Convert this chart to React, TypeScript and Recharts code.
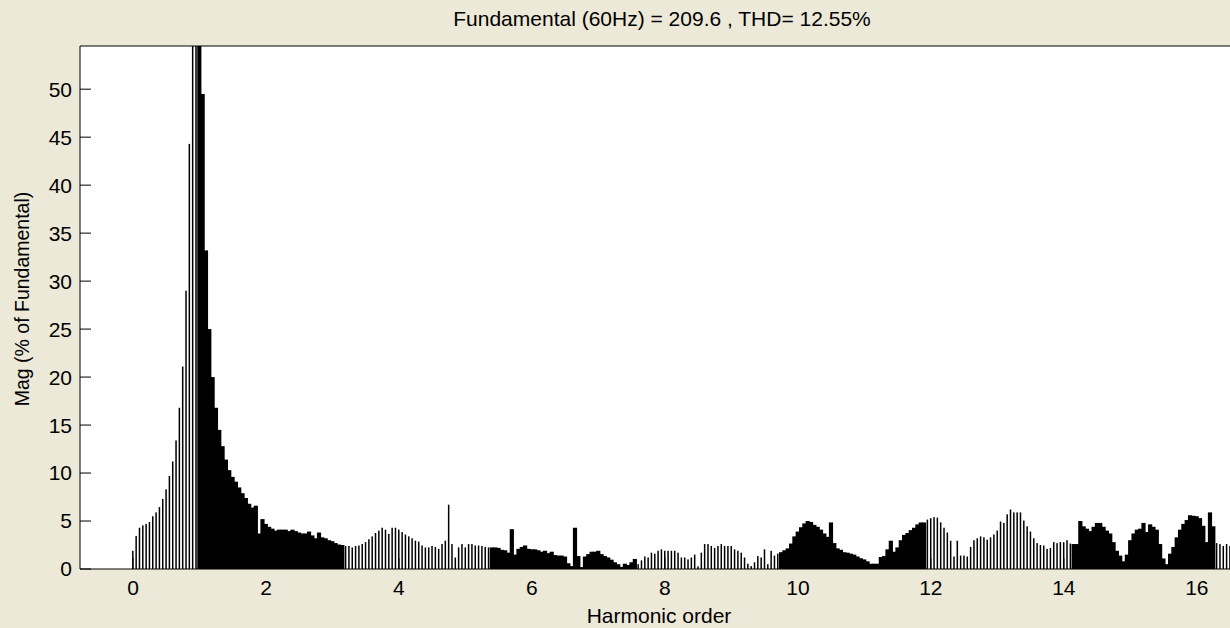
import { ComposedChart, Bar, Line, XAxis, YAxis, CartesianGrid } from 'recharts';

// FFT bin spacing: 3 Hz bins on a 60 Hz fundamental -> 0.05 harmonic per bin
const BIN = 0.05;

// magnitude (% of fundamental), one row per harmonic (20 bins each)
const MAG_H0 = [1.9, 3.45, 4.3, 4.55, 4.7, 4.9, 5.5, 5.9, 6.45, 7.3, 8.3, 9.7, 11.2, 13.4, 16.8, 21.1, 29.0, 44.3, 66, 88];
const MAG_H1 = [100, 49.5, 33.2, 25.0, 20.0, 16.8, 14.5, 12.8, 11.4, 10.3, 9.6, 9.1, 8.5, 7.9, 7.4, 6.8, 6.4, 6.6, 3.7, 5.2];
const MAG_H2 = [4.7, 4.4, 4.2, 4.0, 4.1, 4.1, 4.1, 3.95, 4.1, 3.95, 3.8, 3.7, 3.7, 3.9, 3.5, 3.2, 3.8, 3.3, 3.2, 3.0];
const MAG_H3 = [2.9, 2.7, 2.55, 2.5, 2.4, 2.4, 2.25, 2.4, 2.45, 2.6, 2.8, 3.1, 3.4, 3.75, 4.0, 4.3, 4.1, 3.65, 4.3, 4.3];
const MAG_H4 = [4.1, 3.85, 3.6, 3.4, 3.2, 2.95, 2.85, 2.45, 2.25, 2.25, 2.4, 2.3, 2.1, 2.6, 2.95, 6.7, 2.6, 1.2, 2.25, 2.6];
const MAG_H5 = [2.25, 2.6, 2.6, 2.45, 2.45, 2.4, 2.3, 2.25, 2.25, 2.25, 2.2, 2.0, 1.95, 1.7, 4.15, 1.5, 2.1, 2.3, 2.45, 2.1];
const MAG_H6 = [2.05, 2.05, 1.95, 1.8, 1.9, 1.65, 1.8, 1.45, 1.4, 1.4, 1.3, 0.6, 0.3, 4.3, 1.35, 0.2, 1.3, 1.55, 1.8, 1.8];
const MAG_H7 = [1.9, 1.55, 1.35, 1.2, 0.97, 0.7, 0.5, 0.22, 0.55, 0.42, 0.7, 1.05, 0.5, 0.9, 1.3, 1.2, 1.7, 1.6, 1.9, 2.05];
const MAG_H8 = [1.9, 1.9, 1.9, 1.9, 1.7, 1.2, 1.2, 1.0, 1.2, 1.5, 0.28, 1.7, 2.6, 2.6, 2.4, 2.2, 2.4, 2.6, 2.4, 2.4];
const MAG_H9 = [2.4, 2.05, 1.9, 1.7, 1.2, 0.55, 0.3, 0.7, 1.35, 1.2, 2.05, 0.5, 1.9, 1.4, 1.6, 1.75, 1.95, 2.15, 2.65, 3.4];
const MAG_H10 = [3.9, 4.35, 4.75, 5.0, 4.9, 4.6, 4.4, 4.1, 3.7, 3.35, 4.85, 2.7, 2.15, 2.0, 1.75, 1.7, 1.6, 1.5, 1.3, 1.12];
const MAG_H11 = [1.0, 0.8, 0.55, 0.55, 0.55, 1.25, 1.35, 2.05, 2.95, 1.8, 2.25, 3.0, 3.55, 3.75, 4.05, 4.3, 4.65, 4.85, 4.85, 5.15];
const MAG_H12 = [5.3, 5.4, 5.35, 4.86, 4.3, 3.8, 2.95, 1.3, 2.95, 1.4, 1.4, 1.3, 2.3, 3.0, 3.2, 3.4, 3.3, 3.05, 3.3, 3.6];
const MAG_H13 = [4.0, 4.95, 4.8, 5.7, 6.2, 5.9, 5.9, 5.9, 5.05, 4.45, 3.9, 3.2, 2.7, 2.5, 2.45, 2.1, 2.2, 2.8, 2.7, 2.8];
const MAG_H14 = [2.8, 3.0, 2.65, 2.6, 2.6, 5.0, 4.45, 4.2, 3.95, 4.4, 4.8, 4.8, 4.4, 4.0, 3.7, 2.8, 1.9, 1.4, 0.8, 1.5];
const MAG_H15 = [3.0, 3.7, 4.1, 4.2, 4.8, 3.85, 4.65, 4.4, 4.1, 2.6, 1.1, 0.5, 1.6, 2.3, 3.3, 4.1, 4.7, 5.1, 5.6, 5.55];
const MAG_H16 = [5.5, 5.3, 4.5, 2.8, 5.9, 4.45, 2.7, 2.6, 2.4, 2.6, 2.4, 2.5, 2.4, 2.5];

const X_TICKS = [0, 2, 4, 6, 8, 10, 12, 14, 16];
const Y_TICKS = [0, 5, 10, 15, 20, 25, 30, 35, 40, 45, 50];
const X_MIN = -0.797;
const X_MAX = 16.64;
const Y_MAX = 54.5;

// harmonic ranges where the dense bars merge into solid black in the screenshot
const SOLID_RANGES = [[0.975, 3.175], [5.375, 7.575], [9.725, 11.925], [14.125, 16.275]];

const mags = [
  ...MAG_H0, ...MAG_H1, ...MAG_H2, ...MAG_H3, ...MAG_H4, ...MAG_H5, ...MAG_H6, ...MAG_H7, ...MAG_H8,
  ...MAG_H9, ...MAG_H10, ...MAG_H11, ...MAG_H12, ...MAG_H13, ...MAG_H14, ...MAG_H15, ...MAG_H16,
];
const data = mags.map((m, i) => ({ h: i * BIN, mag: m }));

const isSolid = (h: number) => SOLID_RANGES.some(([a, b]) => h >= a && h < b);

const SpectrumBar = (props: any) => {
  const { x, y, width, height, payload } = props;
  if (!height || height <= 0 || !isFinite(x)) return null;
  const cx = x + width / 2;
  const w = isSolid(payload.h) ? width + 1.2 : 1.5;
  return <rect x={cx - w / 2} y={y} width={w} height={height} fill="#000" />;
};

const font = '"Liberation Sans", Arial, sans-serif';
const axisStroke = { stroke: '#000' };

export default function App() {
  return (
    <div
      style={{
        position: 'absolute',
        left: 0,
        top: 0,
        width: 1230,
        height: 628,
        overflow: 'hidden',
        background: '#ECE9D8',
        fontFamily: font,
        color: '#000',
      }}
    >
      <ComposedChart
        width={1250}
        height={628}
        data={data}
        margin={{ top: 45, right: 9.6, bottom: 0, left: 0 }}
      >
        <CartesianGrid horizontal={false} vertical={false} fill="#fff" stroke="none" xAxisId="b" yAxisId="l" />
        <XAxis
          xAxisId="b"
          dataKey="h"
          type="number"
          domain={[X_MIN, X_MAX]}
          ticks={X_TICKS}
          interval={0}
          allowDataOverflow
          height={59}
          tickSize={-11}
          tickMargin={22}
          axisLine={axisStroke}
          tickLine={axisStroke}
          tick={{ fill: '#000', fontSize: 21, fontFamily: font }}
        />
        {/* frame: top and right axes with inward ticks, no labels */}
        <XAxis
          xAxisId="t"
          dataKey="h"
          orientation="top"
          type="number"
          domain={[X_MIN, X_MAX]}
          ticks={X_TICKS}
          interval={0}
          allowDataOverflow
          height={1}
          tickSize={-11}
          tick={false}
          axisLine={axisStroke}
          tickLine={axisStroke}
        />
        <YAxis
          yAxisId="l"
          type="number"
          domain={[0, Y_MAX]}
          ticks={Y_TICKS}
          interval={0}
          allowDataOverflow
          width={80}
          tickSize={-11}
          tickMargin={19}
          axisLine={axisStroke}
          tickLine={axisStroke}
          tick={{ fill: '#000', fontSize: 21, fontFamily: font }}
        />
        <YAxis
          yAxisId="r"
          orientation="right"
          type="number"
          domain={[0, Y_MAX]}
          ticks={Y_TICKS}
          interval={0}
          allowDataOverflow
          width={1}
          tickSize={-11}
          tick={false}
          axisLine={axisStroke}
          tickLine={axisStroke}
        />
        <Bar
          xAxisId="b"
          yAxisId="l"
          dataKey="mag"
          barSize={3.325}
          shape={SpectrumBar}
          isAnimationActive={false}
        />
        {/* invisible series so the frame axes get a scale */}
        <Line
          xAxisId="t"
          yAxisId="r"
          dataKey="mag"
          stroke="none"
          dot={false}
          activeDot={false}
          isAnimationActive={false}
        />
      </ComposedChart>

      <div
        style={{
          position: 'absolute',
          top: 8,
          left: 662,
          transform: 'translateX(-50%)',
          whiteSpace: 'nowrap',
          fontSize: 21,
          lineHeight: '21px',
        }}
      >
        Fundamental (60Hz) = 209.6 , THD= 12.55%
      </div>
      <div
        style={{
          position: 'absolute',
          top: 605,
          left: 659,
          transform: 'translateX(-50%)',
          whiteSpace: 'nowrap',
          fontSize: 21,
          lineHeight: '21px',
        }}
      >
        Harmonic order
      </div>
      <div
        style={{
          position: 'absolute',
          top: 299,
          left: 22,
          transform: 'translate(-50%, -50%) rotate(-90deg)',
          whiteSpace: 'nowrap',
          fontSize: 19.5,
          lineHeight: '20px',
        }}
      >
        Mag (% of Fundamental)
      </div>
    </div>
  );
}
